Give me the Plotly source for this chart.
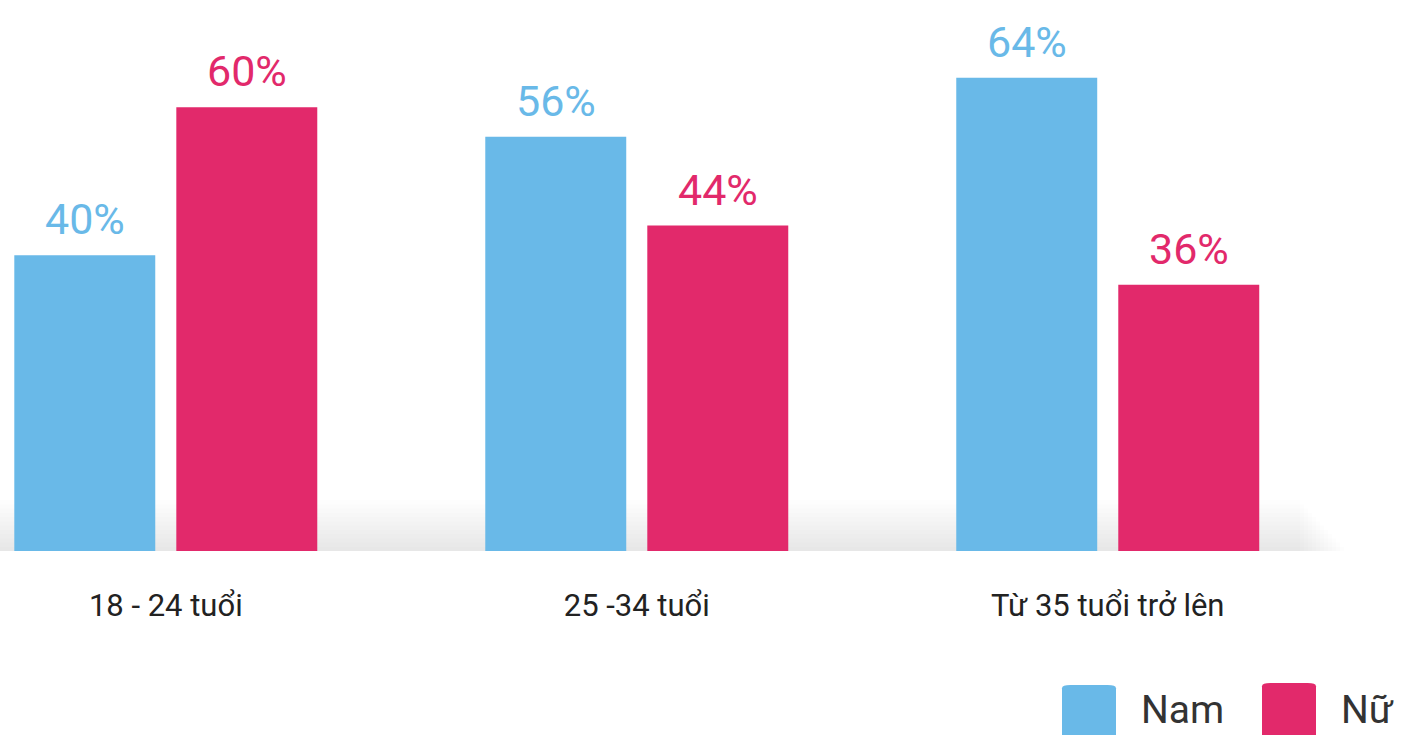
import plotly.graph_objects as go

categories = ["18 - 24 tuổi", "25 -34 tuổi", "Từ 35 tuổi trở lên"]
nam_values = [40, 56, 64]
nu_values = [60, 44, 36]
series_names = ["Nam", "Nữ"]

BLUE = "#69B9E8"
PINK = "#E2296B"
FONT = "Roboto, 'Open Sans', sans-serif"

fig = go.Figure()
fig.add_trace(go.Bar(x=categories, y=nam_values, name=series_names[0],
                     marker=dict(color=BLUE, line=dict(width=0)), showlegend=False,
                     hoverinfo="skip"))
fig.add_trace(go.Bar(x=categories, y=nu_values, name=series_names[1],
                     marker=dict(color=PINK, line=dict(width=0)), showlegend=False,
                     hoverinfo="skip"))

annotations = []
for vals, color, shift in [(nam_values, BLUE, -81), (nu_values, PINK, 81)]:
    for c, v in zip(categories, vals):
        annotations.append(dict(x=c, y=v, xref="x", yref="y", text=f"{v}%",
                                showarrow=False, xshift=shift, yshift=36,
                                yanchor="middle",
                                font=dict(family=FONT, size=43, color=color)))

# legend (custom, rounded squares)
shapes = []
def rounded(x0, y0, x1, y1, r, color):
    path = (f"M {x0+r},{y0} L {x1-r},{y0} Q {x1},{y0} {x1},{y0+r} "
            f"L {x1},{y1-r} Q {x1},{y1} {x1-r},{y1} L {x0+r},{y1} "
            f"Q {x0},{y1} {x0},{y1-r} L {x0},{y0+r} Q {x0},{y0} {x0+r},{y0} Z")
    return dict(type="path", xref="paper", yref="paper", path=path,
                fillcolor=color, line=dict(width=0), layer="above")

W, H = 1404, 735
PH = 551
def px_x(x):
    return x / W
def px_y(y):
    return (PH - y) / PH

shapes.append(rounded(px_x(1062), px_y(738), px_x(1116), px_y(685), 0.006, BLUE))
shapes.append(rounded(px_x(1262), px_y(738), px_x(1316), px_y(683), 0.006, PINK))
for name, xpx in zip(series_names, [1140, 1340]):
    annotations.append(dict(x=px_x(xpx), y=px_y(734), xref="paper", yref="paper",
                            text=name, showarrow=False, xanchor="left", yanchor="bottom",
                            borderpad=0,
                            font=dict(family=FONT, size=39, color="#333333")))

# soft shadow near baseline, fading at the right end
n = 12
for i in range(n):
    y0 = 500 + i * (51 / n)
    shapes.append(dict(type="rect", xref="paper", yref="paper",
                       x0=0, x1=px_x(1300 + 4 * i), y0=px_y(551), y1=px_y(y0),
                       fillcolor="rgba(0,0,0,0.008)", line=dict(width=0), layer="below"))

fig.update_layout(
    width=W, height=H,
    margin=dict(l=0, r=0, t=0, b=H - PH),
    plot_bgcolor="rgba(0,0,0,0)", paper_bgcolor="white",
    barmode="group", bargap=0.312, bargroupgap=0.13,
    hovermode=False,
    xaxis=dict(type="category", range=[-0.352, 2.629], showgrid=False, zeroline=False,
               showline=False, ticks="", ticklabelstandoff=33, fixedrange=True,
               tickfont=dict(family=FONT, size=31, color="#222222")),
    yaxis=dict(range=[0, 74.5], visible=False, fixedrange=True),
    annotations=annotations, shapes=shapes,
)

fig.write_html("out.html", config={"displayModeBar": False, "staticPlot": True},
               post_script="document.body.style.margin='0';document.body.style.overflow='hidden';")
